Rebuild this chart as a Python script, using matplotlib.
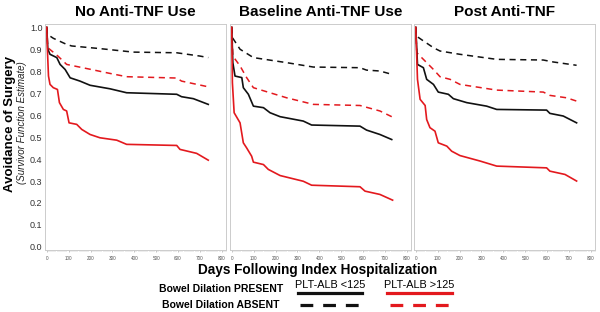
import matplotlib
matplotlib.use("Agg")
import matplotlib.pyplot as plt
from matplotlib.lines import Line2D
from matplotlib.ticker import MultipleLocator

plt.rcParams['font.family'] = ['Liberation Sans', 'DejaVu Sans']

titles = ["No Anti-TNF Use", "Baseline Anti-TNF Use", "Post Anti-TNF"]
ytick_vals = [0.0, 0.1, 0.2, 0.3, 0.4, 0.5, 0.6, 0.7, 0.8, 0.9, 1.0]
xtick_vals = [0, 100, 200, 300, 400, 500, 600, 700, 800]

# ---- Panel 1: No Anti-TNF Use ----
p1_bd_day = [0, 3, 30, 91, 114, 243, 396, 594, 700, 738]
p1_bd_val = [1.0, 0.968, 0.95, 0.922, 0.915, 0.903, 0.887, 0.884, 0.869, 0.862]
p1_rd_day = [0, 5, 50, 91, 198, 289, 365, 594, 616, 738]
p1_rd_val = [1.0, 0.907, 0.87, 0.831, 0.809, 0.79, 0.775, 0.769, 0.755, 0.729]
p1_bs_day = [0, 5, 15, 46, 61, 84, 107, 152, 198, 289, 365, 594, 616, 670, 738]
p1_bs_val = [1.0, 0.9, 0.877, 0.862, 0.831, 0.808, 0.77, 0.755, 0.736, 0.72, 0.702, 0.695, 0.684, 0.675, 0.649]
p1_rs_day = [0, 3, 8, 15, 30, 49, 58, 76, 91, 102, 137, 160, 198, 243, 320, 365, 594, 609, 685, 738]
p1_rs_val = [1.0, 0.9, 0.778, 0.74, 0.725, 0.717, 0.657, 0.626, 0.619, 0.565, 0.558, 0.535, 0.512, 0.497, 0.486, 0.467, 0.462, 0.444, 0.426, 0.395]

# ---- Panel 2: Baseline Anti-TNF Use ----
p2_bd_day = [0, 3, 38, 99, 251, 373, 586, 616, 677, 731]
p2_bd_val = [1.0, 0.953, 0.9, 0.862, 0.839, 0.819, 0.816, 0.805, 0.801, 0.786]
p2_rd_day = [0, 5, 38, 68, 99, 175, 251, 373, 586, 677, 731]
p2_rd_val = [1.0, 0.869, 0.824, 0.771, 0.725, 0.702, 0.679, 0.649, 0.644, 0.619, 0.593]
p2_bs_day = [0, 5, 15, 46, 53, 76, 99, 145, 175, 221, 327, 365, 586, 616, 677, 731]
p2_bs_val = [1.0, 0.839, 0.778, 0.771, 0.725, 0.695, 0.641, 0.634, 0.611, 0.593, 0.573, 0.555, 0.55, 0.532, 0.512, 0.489]
p2_rs_day = [0, 3, 11, 38, 53, 68, 91, 99, 145, 167, 221, 327, 365, 586, 609, 677, 735]
p2_rs_val = [1.0, 0.748, 0.611, 0.565, 0.474, 0.451, 0.413, 0.386, 0.375, 0.353, 0.325, 0.299, 0.281, 0.274, 0.254, 0.239, 0.213]

# ---- Panel 3: Post Anti-TNF ----
p3_bd_day = [0, 3, 35, 81, 111, 202, 370, 583, 629, 735]
p3_bd_val = [1.0, 0.96, 0.938, 0.907, 0.892, 0.877, 0.854, 0.851, 0.842, 0.827]
p3_rd_day = [0, 5, 50, 81, 111, 157, 202, 370, 583, 613, 689, 735]
p3_rd_val = [1.0, 0.884, 0.839, 0.808, 0.775, 0.763, 0.74, 0.714, 0.705, 0.69, 0.679, 0.664]
p3_bs_day = [0, 8, 35, 50, 81, 103, 149, 172, 233, 324, 370, 598, 613, 674, 735]
p3_bs_val = [1.0, 0.831, 0.816, 0.763, 0.74, 0.705, 0.695, 0.675, 0.657, 0.641, 0.626, 0.623, 0.608, 0.596, 0.565]
p3_rs_day = [0, 8, 20, 43, 50, 65, 88, 103, 142, 164, 202, 294, 370, 598, 613, 682, 735]
p3_rs_val = [1.0, 0.763, 0.672, 0.644, 0.58, 0.543, 0.527, 0.474, 0.459, 0.436, 0.416, 0.391, 0.368, 0.36, 0.345, 0.33, 0.3]

panels = [
    (p1_bd_day, p1_bd_val, p1_rd_day, p1_rd_val, p1_bs_day, p1_bs_val, p1_rs_day, p1_rs_val),
    (p2_bd_day, p2_bd_val, p2_rd_day, p2_rd_val, p2_bs_day, p2_bs_val, p2_rs_day, p2_rs_val),
    (p3_bd_day, p3_bd_val, p3_rd_day, p3_rd_val, p3_bs_day, p3_bs_val, p3_rs_day, p3_rs_val),
]

BLACK = "#111111"
RED = "#e3191e"
W, H = 600, 312

fig = plt.figure(figsize=(6, 3.12), dpi=100)

lefts = [45.2, 230.2, 414.2]
for i, (left, data) in enumerate(zip(lefts, panels)):
    ax = fig.add_axes([left / W, 1 - 250 / H, 181 / W, 226 / H])
    bd_d, bd_v, rd_d, rd_v, bs_d, bs_v, rs_d, rs_v = data
    ax.plot(bd_d, bd_v, color=BLACK, lw=1.1, ls=(0, (4, 3)))
    ax.plot(rd_d, rd_v, color=RED, lw=1.1, ls=(0, (4, 3)))
    ax.plot(bs_d, bs_v, color=BLACK, lw=1.2)
    ax.plot(rs_d, rs_v, color=RED, lw=1.2)
    ax.set_xlim(-7, 820)
    ax.set_ylim(-0.014, 1.015)
    ax.set_xticks(xtick_vals)
    ax.set_xticklabels([str(v) for v in xtick_vals], fontsize=3.3, color="#555555")
    ax.xaxis.set_minor_locator(MultipleLocator(10))
    ax.tick_params(axis='x', which='major', length=1.5, width=0.4, color="#999999", pad=3)
    ax.tick_params(axis='x', which='minor', length=1.2, width=0.3, color="#aaaaaa")
    ax.set_yticks(ytick_vals)
    if i == 0:
        ax.set_yticklabels([f"{v:.1f}" for v in ytick_vals], fontsize=6.5, color="#333333")
    else:
        ax.set_yticklabels([])
    ax.tick_params(axis='y', length=0, pad=2)
    for s in ax.spines.values():
        s.set_color("#cccccc")
        s.set_linewidth(0.7)
    ax.set_title(titles[i], fontsize=11, fontweight='bold', pad=6)

fig.text(10 / W, 1 - 124 / H, "Avoidance of Surgery", rotation=90, fontsize=9.5,
         fontweight='bold', ha='center', va='center')
fig.text(22 / W, 1 - 123 / H, "(Survivor Function Estimate)", rotation=90, fontsize=7,
         style='italic', ha='center', va='center', color="#222222")
fig.text(318 / W, 1 - 270 / H, "Days Following Index Hospitalization", fontsize=9.8,
         fontweight='bold', ha='center', va='center')

fig.text(221 / W, 1 - 289 / H, "Bowel Dilation PRESENT", fontsize=7.5, fontweight='bold',
         ha='center', va='center')
fig.text(221 / W, 1 - 305 / H, "Bowel Dilation ABSENT", fontsize=7.5, fontweight='bold',
         ha='center', va='center')
fig.text(330 / W, 1 - 285 / H, "PLT-ALB <125", fontsize=7.8, ha='center', va='center')
fig.text(419 / W, 1 - 285 / H, "PLT-ALB >125", fontsize=7.8, ha='center', va='center')

fig.add_artist(Line2D([298 / W, 362 / W], [1 - 293 / H, 1 - 293 / H], color=BLACK, lw=2.3,
                      transform=fig.transFigure))
fig.add_artist(Line2D([387 / W, 452 / W], [1 - 293 / H, 1 - 293 / H], color=RED, lw=2.3,
                      transform=fig.transFigure))
fig.add_artist(Line2D([300 / W, 359 / W], [1 - 305 / H, 1 - 305 / H], color=BLACK, lw=2.3,
                      ls=(0, (4.0, 3.1)), transform=fig.transFigure))
fig.add_artist(Line2D([390 / W, 449 / W], [1 - 305 / H, 1 - 305 / H], color=RED, lw=2.3,
                      ls=(0, (4.0, 3.1)), transform=fig.transFigure))

fig.savefig("out.png", dpi=100)
